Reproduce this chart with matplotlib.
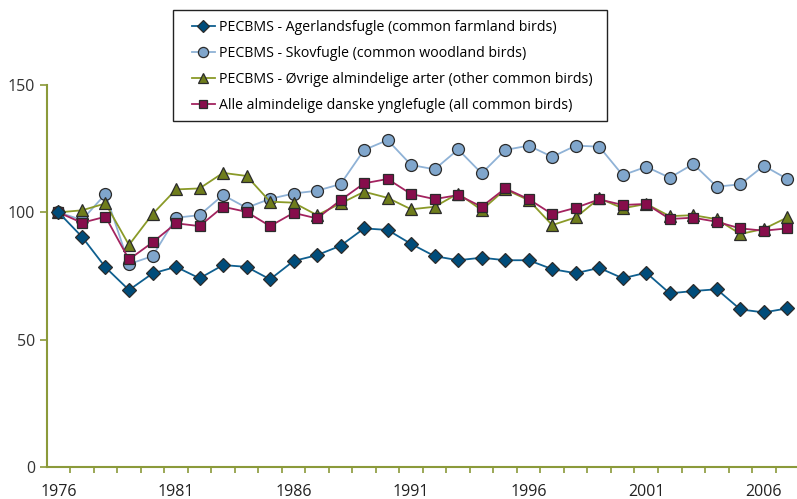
import matplotlib
matplotlib.use("Agg")
import matplotlib.pyplot as plt
from matplotlib.patches import Rectangle
import numpy as np

years = list(range(1976, 2008))

farmland = [100, 90.4, 78.4, 69.5, 76.0, 78.6, 74.1, 79.3, 78.6, 73.7,
            80.9, 83.2, 86.9, 93.7, 93.1, 87.6, 82.8, 81.2, 82.2, 81.2,
            81.2, 77.7, 76.1, 78.2, 74.1, 76.3, 68.2, 69.1, 69.8, 61.9,
            60.7, 62.3]
woodland = [100, 97.0, 107.2, 79.7, 82.8, 97.9, 98.9, 106.8, 101.8, 105.3,
            107.4, 108.5, 111.1, 124.5, 128.4, 118.6, 116.9, 124.7, 115.3, 124.5,
            126.2, 121.8, 126.2, 125.8, 114.6, 117.9, 113.6, 119.0, 110.1, 111.0,
            118.3, 113.1]
other = [100, 100.8, 103.5, 87.2, 99.3, 109.0, 109.4, 115.5, 114.3, 104.2,
         103.8, 98.9, 103.5, 108.1, 105.7, 101.2, 102.2, 107.4, 100.9, 109.0,
         104.8, 95.0, 98.0, 105.5, 101.6, 103.3, 98.5, 98.9, 97.3, 91.5,
         93.5, 98.0]
all_birds = [100, 95.9, 98.3, 81.5, 88.2, 95.7, 94.6, 102.2, 100.2, 94.6,
             99.8, 97.6, 104.8, 111.4, 113.1, 107.2, 105.2, 106.8, 102.2, 109.4,
             105.2, 99.3, 101.8, 105.1, 102.9, 103.3, 97.4, 97.9, 96.3, 93.7,
             92.8, 93.7]

labels = ["PECBMS - Agerlandsfugle (common farmland birds)",
          "PECBMS - Skovfugle (common woodland birds)",
          "PECBMS - Øvrige almindelige arter (other common birds)",
          "Alle almindelige danske ynglefugle (all common birds)"]

plt.rcParams['font.family'] = ['Open Sans', 'DejaVu Sans']

fig = plt.figure(figsize=(7.97, 4.99), dpi=100)
ax = fig.add_axes([0.0586, 0.0641, 0.944, 0.7655])

x = np.arange(len(years))
edge = "#2b2b2b"
ax.plot(x, farmland, color="#0f5f8f", lw=1.3, marker="D", ms=6.8,
        mfc="#004c7a", mec=edge, mew=0.9, label=labels[0], zorder=3)
ax.plot(x, woodland, color="#8fb2d6", lw=1.3, marker="o", ms=8.6,
        mfc="#80a6cc", mec=edge, mew=0.9, label=labels[1], zorder=2)
ax.plot(x, other, color="#8a9a28", lw=1.3, marker="^", ms=8.6,
        mfc="#6f7d1c", mec=edge, mew=0.9, label=labels[2], zorder=2)
ax.plot(x, all_birds, color="#a3235f", lw=1.3, marker="s", ms=7.2,
        mfc="#860d4b", mec=edge, mew=0.9, label=labels[3], zorder=2)

ax.set_xlim(-0.5, len(years) - 0.5)
ax.set_ylim(0, 150)
ax.set_yticks([0, 50, 100, 150])

ax.set_xticks(x[::5])
ax.set_xticklabels([str(y) for y in years[::5]])
ax.set_xticks(np.arange(len(years)) + 0.5, minor=True)
ax.tick_params(axis="x", which="major", length=0, pad=12, labelsize=11.5, colors="#222222")
ax.tick_params(axis="x", which="minor", length=4, width=1.2, color="#8b9a3a", direction="out")
ax.tick_params(axis="y", length=5, width=1.2, color="#8b9a3a", labelsize=11.5,
               labelcolor="#333333")

for s in ["top", "right"]:
    ax.spines[s].set_visible(False)
for s in ["left", "bottom"]:
    ax.spines[s].set_color("#8b9a3a")
    ax.spines[s].set_linewidth(1.5)

# legend without its own frame, box drawn separately
leg = fig.legend(loc="upper left", bbox_to_anchor=(0.2410, 0.960), fontsize=10.2,
                 frameon=False, handlelength=1.6, handletextpad=0.3,
                 borderpad=0, labelspacing=0.78, markerscale=0.85, borderaxespad=0)
fig.patches.append(Rectangle((0.2171, 0.7575), 0.5446, 0.2224, transform=fig.transFigure,
                             fill=False, edgecolor="#222222", lw=1.0))

fig.savefig("out.png", dpi=100)
